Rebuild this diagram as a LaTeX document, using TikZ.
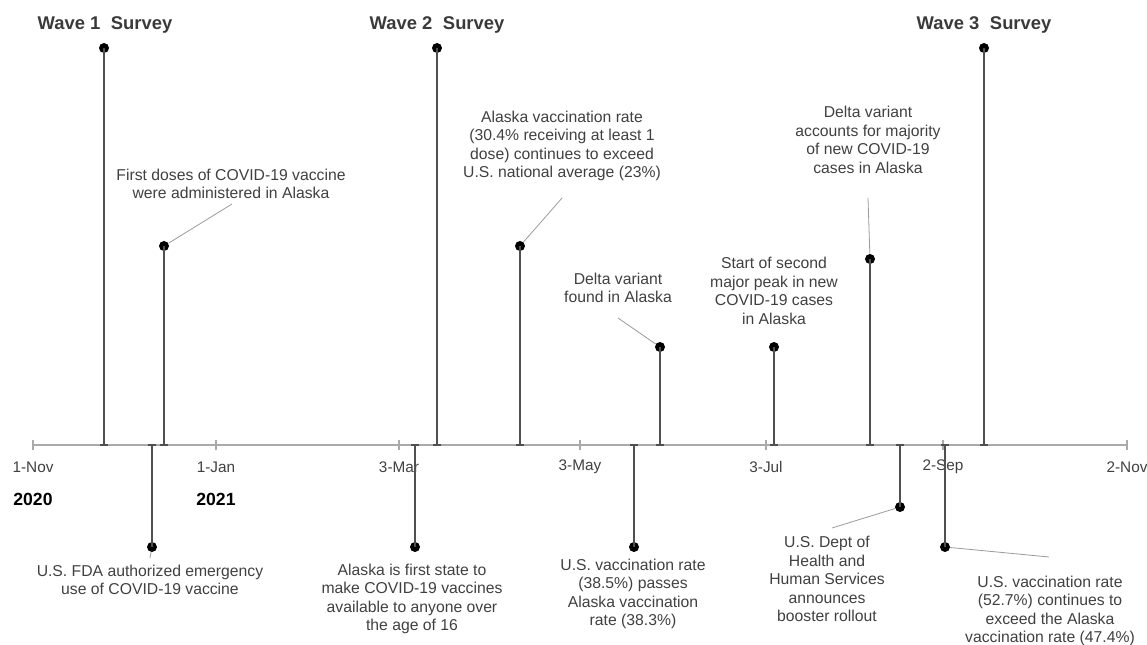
\documentclass[tikz,border=0pt]{standalone}
\usepackage{fontspec}
\setmainfont{Liberation Sans}
\definecolor{txtgray}{HTML}{404040}
\definecolor{wavegray}{HTML}{3A3A3A}
\definecolor{stemgray}{HTML}{505050}
\definecolor{axisgray}{HTML}{AAAAAA}
\definecolor{leadgray}{HTML}{9A9A9A}
\begin{document}
\begin{tikzpicture}[x=0.75pt,y=-0.75pt,
  lbl/.style={text=txtgray, font=\fontsize{11.8}{13.9}\selectfont, align=center, inner sep=0pt},
  axlbl/.style={text=txtgray, font=\fontsize{11.5}{13.9}\selectfont, inner sep=0pt},
  yearlbl/.style={text=black, font=\bfseries\fontsize{13.2}{15}\selectfont, inner sep=0pt},
  wave/.style={text=wavegray, font=\bfseries\fontsize{13.8}{16}\selectfont, inner sep=0pt},
  dot/.style={circle, fill=black, inner sep=0pt, minimum size=7.5pt},
  stem/.style={draw=stemgray, line width=1.1pt},
  capline/.style={draw=stemgray, line width=1.1pt},
  leader/.style={draw=leadgray, line width=0.6pt},
  axisline/.style={draw=axisgray, line width=1pt},
  tickline/.style={draw=axisgray, line width=0.9pt}]
\useasboundingbox (0,0) rectangle (1147,645);

% axis
\coordinate (axL) at (33,445);
\coordinate (axR) at (1127,445);
\draw[axisline] (axL) -- (axR);
\foreach \x/\t [count=\i] in {33/1-Nov,216/1-Jan,399/3-Mar,580/3-May,766/3-Jul,943/2-Sep,1127/2-Nov}{
  \coordinate (tk\i) at (\x,445);
  \draw[tickline] ([yshift=-4pt]tk\i) -- ([yshift=4pt]tk\i);
  \node[axlbl] (tl\i) at (\x,467) {\t};
}
\node[yearlbl] (y2020) at (33,499) {2020};
\node[yearlbl] (y2021) at (216,499) {2021};

% Wave surveys
\node[wave] (w1) at (105,25) {Wave 1\hspace{0.3em} Survey};
\node[wave] (w2) at (437,25) {Wave 2\hspace{0.3em} Survey};
\node[wave] (w3) at (984,25) {Wave 3\hspace{0.3em} Survey};

% event bases on the axis
\foreach \n/\x in {1/104,2/152,3/164,4/415,5/437,6/520,7/634,8/660,9/774,10/870,11/900,12/945,13/984}{
  \coordinate (b\n) at (\x,445);
  \draw[capline] ([xshift=-3pt]b\n) -- ([xshift=3pt]b\n);
}

% dots
\node[dot] (d1) at (104,48) {};
\node[dot] (d2) at (152,547) {};
\node[dot] (d3) at (164,246) {};
\node[dot] (d4) at (415,547) {};
\node[dot] (d5) at (437,48) {};
\node[dot] (d6) at (520,246) {};
\node[dot] (d7) at (634,547) {};
\node[dot] (d8) at (660,347) {};
\node[dot] (d9) at (774,347) {};
\node[dot] (d10) at (870,259) {};
\node[dot] (d11) at (900,507) {};
\node[dot] (d12) at (945,547) {};
\node[dot] (d13) at (984,48) {};

\foreach \n in {1,...,13}{ \draw[stem] (b\n) -- (d\n.center); }

% labels
\node[lbl] (t3) at (231,184) {First doses of COVID-19 vaccine\\were administered in Alaska};
\node[lbl] (t6) at (562,146) {Alaska vaccination rate\\(30.4\% receiving at least 1\\dose) continues to exceed\\U.S. national average (23\%)};
\node[lbl] (t8) at (618,288) {Delta variant\\found in Alaska};
\node[lbl] (t9) at (774,291) {Start of second\\major peak in new\\COVID-19 cases\\in Alaska};
\node[lbl] (t10) at (868,140) {Delta variant\\accounts for majority\\of new COVID-19\\cases in Alaska};
\node[lbl] (t2) at (150,580) {U.S. FDA authorized emergency\\use of COVID-19 vaccine};
\node[lbl] (t4) at (412,599) {Alaska is first state to\\make COVID-19 vaccines\\available to anyone over\\the age of 16};
\node[lbl] (t7) at (633,594) {U.S. vaccination rate\\(38.5\%) passes\\Alaska vaccination\\rate (38.3\%)};
\node[lbl] (t11) at (827,579) {U.S. Dept of\\Health and\\Human Services\\announces\\booster rollout};
\node[lbl] (t12) at (1050,611) {U.S. vaccination rate\\(52.7\%) continues to\\exceed the Alaska\\vaccination rate (47.4\%)};

% leader lines
\coordinate (l3) at (232,204);
\coordinate (l6) at (562,198);
\coordinate (l8) at (618,318);
\coordinate (l10) at (868,198);
\coordinate (l2) at (150,558);
\coordinate (l11) at (832,528);
\coordinate (l12) at (1049,557);
\draw[leader] (d3) -- (l3);
\draw[leader] (d6) -- (l6);
\draw[leader] (d8) -- (l8);
\draw[leader] (d10) -- (l10);
\draw[leader] (d2) -- (l2);
\draw[leader] (d11) -- (l11);
\draw[leader] (d12) -- (l12);
\end{tikzpicture}
\end{document}
